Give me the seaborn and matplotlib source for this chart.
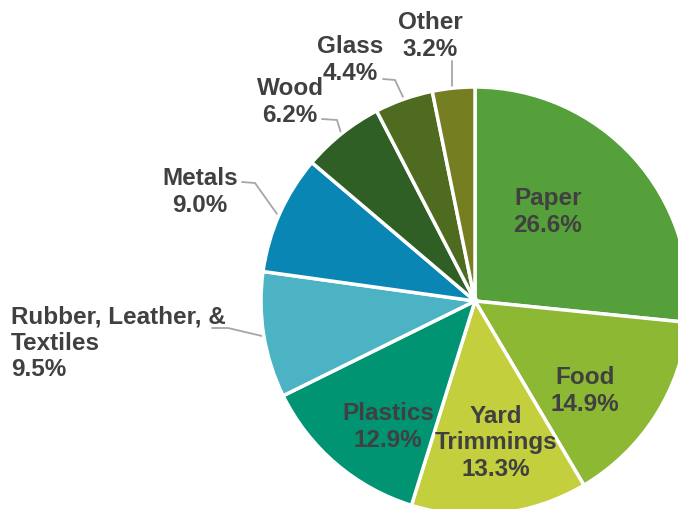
import matplotlib
matplotlib.use("Agg")
import matplotlib.pyplot as plt
import seaborn as sns

# data
materials = ["Paper", "Food", "Yard\nTrimmings", "Plastics", "Rubber, Leather, &\nTextiles",
             "Metals", "Wood", "Glass", "Other"]
shares = [26.6, 14.9, 13.3, 12.9, 9.5, 9.0, 6.2, 4.4, 3.2]
colors = ["#55A03B", "#8CB833", "#C3CF3C", "#009473", "#4BB3C3",
          "#0A86B4", "#2F5F24", "#4E6B20", "#767E22"]

sns.set_theme(style="white")
plt.rcParams["font.family"] = ["Liberation Sans", "DejaVu Sans"]

W, H = 678, 510
CX, CY, R = 475, 302, 214
fig = plt.figure(figsize=(W / 100, H / 100), dpi=100)
ax = fig.add_axes([0, 0, 1, 1])

ax.pie(shares, colors=colors, startangle=90, counterclock=False, radius=1,
       wedgeprops=dict(edgecolor="white", linewidth=2.5))

ax.set_xlim(-CX / R, (W - CX) / R)
ax.set_ylim(-(H - CY) / R, CY / R)
ax.set_aspect("equal")
ax.axis("off")


def d(px, py):
    # pixel (from top-left) -> data coords
    return (px - CX) / R, (CY - py) / R


txt = "#404040"
fs = 17.5
ls = 1.19
inside = {0: (548, 212), 1: (585, 391), 2: (496, 443), 3: (388, 427)}
for i, (px, py) in inside.items():
    x, y = d(px, py)
    ax.text(x, y, f"{materials[i]}\n{shares[i]:.1f}%", ha="center", va="center",
            fontsize=fs, fontweight="bold", color=txt, linespacing=ls)

# outside labels
outside = {4: (11, 343, "left"), 5: (200, 192, "center"), 6: (290, 102, "center"),
           7: (350, 60, "center"), 8: (430, 36, "center")}
for i, (px, py, ha) in outside.items():
    x, y = d(px, py)
    ax.text(x, y, f"{materials[i]}\n{shares[i]:.1f}%", ha=ha, va="center",
            fontsize=fs, fontweight="bold", color=txt, linespacing=ls)

leaders = [
    [(212, 329), (228, 329), (262, 337)],
    [(242, 183), (255, 184), (277, 215)],
    [(322, 120), (337, 121), (341, 134)],
    [(383, 80), (395, 81), (403, 98)],
    [(452, 62), (452, 90)],
]
for pts in leaders:
    xs, ys = zip(*[d(px, py) for px, py in pts])
    ax.plot(xs, ys, color="#A6A6A6", lw=1.3, zorder=0)

fig.savefig("out.png", dpi=100)
